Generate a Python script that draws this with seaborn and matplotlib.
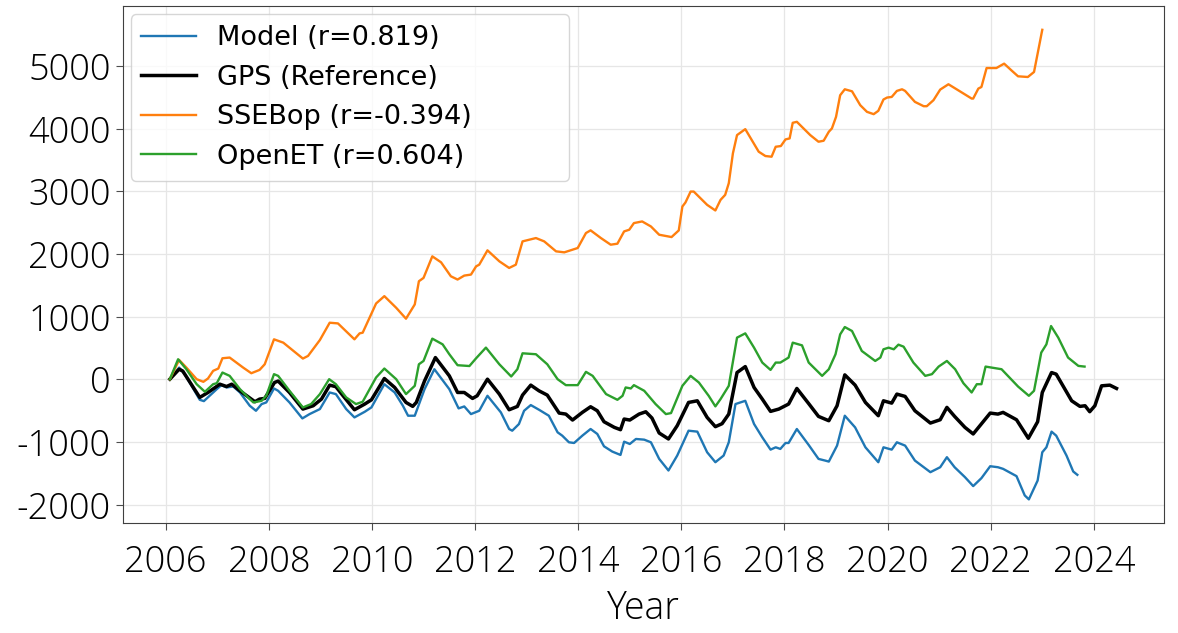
import seaborn as sb
import matplotlib.pyplot as plt
import matplotlib.ticker as mticker
import pandas as pd

# cumulative change (decimal years)
gps_year = [2006.08, 2006.26, 2006.33, 2006.66, 2006.82, 2007.05, 2007.18, 2007.28, 2007.44, 2007.73,
            2007.82, 2007.92, 2008.11, 2008.18, 2008.40, 2008.66, 2008.86, 2009.02, 2009.18, 2009.30,
            2009.44, 2009.66, 2009.86, 2009.99, 2010.24, 2010.44, 2010.66, 2010.79, 2010.86, 2011.02,
            2011.23, 2011.50, 2011.66, 2011.79, 2011.95, 2012.04, 2012.24, 2012.47, 2012.66, 2012.82,
            2012.92, 2013.08, 2013.24, 2013.40, 2013.63, 2013.76, 2013.89, 2014.08, 2014.24, 2014.37,
            2014.50, 2014.70, 2014.82, 2014.89, 2015.00, 2015.18, 2015.31, 2015.43, 2015.57, 2015.75,
            2015.92, 2016.14, 2016.31, 2016.50, 2016.66, 2016.79, 2016.92, 2017.08, 2017.24, 2017.41,
            2017.57, 2017.73, 2017.89, 2018.08, 2018.24, 2018.47, 2018.66, 2018.86, 2019.02, 2019.17,
            2019.37, 2019.57, 2019.82, 2019.92, 2020.08, 2020.18, 2020.34, 2020.53, 2020.83, 2021.02,
            2021.15, 2021.30, 2021.50, 2021.66, 2021.99, 2022.14, 2022.24, 2022.50, 2022.73, 2022.91,
            2023.00, 2023.18, 2023.27, 2023.57, 2023.73, 2023.83, 2023.92, 2024.02, 2024.15, 2024.31,
            2024.44]
gps_val = [0, 159, 130, -291, -212, -80, -117, -80, -186, -360,
           -318, -307, -53, -30, -212, -477, -424, -318, -95, -120,
           -265, -488, -397, -329, 11, -132, -371, -434, -371, -27,
           345, 53, -212, -212, -307, -265, 0, -238, -488, -435,
           -254, -95, -186, -254, -541, -557, -652, -530, -440, -504,
           -679, -769, -806, -636, -652, -557, -520, -620, -859, -954,
           -742, -371, -345, -610, -758, -710, -557, 106, 201, -132,
           -318, -514, -477, -397, -148, -390, -594, -663, -424, 69,
           -95, -371, -583, -345, -382, -238, -275, -504, -700, -647,
           -450, -594, -769, -874, -541, -557, -530, -647, -943, -679,
           -212, 106, 80, -345, -434, -424, -519, -424, -106, -95,
           -148]

model_year = [2006.08, 2006.26, 2006.37, 2006.66, 2006.74, 2006.99, 2007.08, 2007.18, 2007.31, 2007.44,
              2007.63, 2007.75, 2007.86, 2007.95, 2008.10, 2008.18, 2008.40, 2008.65, 2008.79, 2008.99,
              2009.18, 2009.30, 2009.50, 2009.66, 2009.86, 2009.99, 2010.24, 2010.44, 2010.60, 2010.70,
              2010.83, 2011.02, 2011.21, 2011.50, 2011.68, 2011.79, 2011.92, 2012.08, 2012.24, 2012.50,
              2012.66, 2012.72, 2012.85, 2012.95, 2013.08, 2013.24, 2013.43, 2013.60, 2013.69, 2013.82,
              2013.92, 2014.08, 2014.24, 2014.37, 2014.50, 2014.66, 2014.82, 2014.89, 2015.00, 2015.12,
              2015.28, 2015.41, 2015.57, 2015.75, 2015.92, 2016.14, 2016.31, 2016.50, 2016.66, 2016.82,
              2016.92, 2017.05, 2017.24, 2017.41, 2017.57, 2017.73, 2017.83, 2017.92, 2018.02, 2018.08,
              2018.24, 2018.47, 2018.66, 2018.79, 2018.86, 2019.02, 2019.17, 2019.37, 2019.57, 2019.82,
              2019.92, 2020.08, 2020.18, 2020.34, 2020.53, 2020.83, 2021.02, 2021.15, 2021.30, 2021.50,
              2021.66, 2021.82, 2021.99, 2022.14, 2022.24, 2022.50, 2022.66, 2022.74, 2022.91, 2023.00,
              2023.08, 2023.18, 2023.27, 2023.47, 2023.60, 2023.68]
model_val = [0, 185, 80, -329, -350, -159, -95, -132, -117, -212,
             -424, -504, -397, -371, -148, -185, -371, -626, -557, -477,
             -212, -238, -477, -610, -520, -450, -80, -212, -424, -583,
             -583, -159, 159, -159, -466, -435, -557, -504, -265, -530,
             -795, -822, -716, -504, -413, -488, -583, -848, -901, -1007,
             -1018, -901, -795, -874, -1071, -1155, -1209, -997, -1034, -954,
             -965, -1007, -1272, -1457, -1219, -822, -837, -1166, -1325, -1219,
             -1007, -397, -345, -715, -928, -1124, -1087, -1113, -1018, -1018,
             -795, -1050, -1272, -1299, -1315, -1060, -583, -769, -1087, -1325,
             -1087, -1124, -1007, -1060, -1299, -1484, -1405, -1245, -1405, -1563,
             -1706, -1579, -1389, -1405, -1431, -1547, -1855, -1918, -1617, -1166,
             -1087, -837, -901, -1219, -1473, -1526]

ssebop_year = [2006.08, 2006.26, 2006.40, 2006.60, 2006.73, 2006.82, 2006.92, 2007.02, 2007.10, 2007.24,
               2007.50, 2007.66, 2007.82, 2007.92, 2008.10, 2008.28, 2008.66, 2008.76, 2008.99, 2009.18,
               2009.34, 2009.66, 2009.76, 2009.82, 2010.08, 2010.24, 2010.47, 2010.66, 2010.83, 2010.91,
               2011.00, 2011.17, 2011.34, 2011.53, 2011.66, 2011.79, 2011.92, 2012.02, 2012.08, 2012.24,
               2012.47, 2012.66, 2012.79, 2012.92, 2013.18, 2013.34, 2013.57, 2013.73, 2013.99, 2014.15,
               2014.24, 2014.44, 2014.63, 2014.76, 2014.89, 2014.99, 2015.08, 2015.24, 2015.41, 2015.57,
               2015.81, 2015.95, 2016.02, 2016.08, 2016.18, 2016.24, 2016.50, 2016.66, 2016.76, 2016.85,
               2016.92, 2017.00, 2017.08, 2017.24, 2017.50, 2017.63, 2017.75, 2017.83, 2017.93, 2018.02,
               2018.10, 2018.16, 2018.24, 2018.50, 2018.66, 2018.76, 2018.86, 2018.92, 2019.00, 2019.08,
               2019.17, 2019.31, 2019.47, 2019.60, 2019.73, 2019.82, 2019.92, 2019.99, 2020.08, 2020.18,
               2020.28, 2020.34, 2020.53, 2020.70, 2020.76, 2020.89, 2021.02, 2021.18, 2021.37, 2021.63,
               2021.66, 2021.76, 2021.82, 2021.92, 2022.11, 2022.26, 2022.40, 2022.53, 2022.72, 2022.84,
               2023.00]
ssebop_val = [0, 307, 186, 0, -42, 11, 133, 170, 334, 345,
              186, 95, 148, 238, 636, 583, 329, 371, 625, 901,
              890, 636, 731, 742, 1208, 1325, 1139, 965, 1193, 1563,
              1616, 1960, 1865, 1642, 1590, 1653, 1669, 1801, 1827, 2056,
              1881, 1775, 1827, 2199, 2252, 2199, 2040, 2024, 2093, 2332,
              2375, 2252, 2146, 2162, 2358, 2385, 2491, 2517, 2437, 2305,
              2268, 2374, 2755, 2820, 2994, 2994, 2782, 2692, 2861, 2941,
              3127, 3604, 3895, 3990, 3630, 3561, 3550, 3709, 3720, 3826,
              3842, 4091, 4107, 3895, 3789, 3805, 3948, 4001, 4186, 4531,
              4626, 4594, 4372, 4266, 4229, 4282, 4463, 4494, 4504, 4600,
              4626, 4600, 4425, 4356, 4356, 4452, 4621, 4706, 4610, 4478,
              4478, 4637, 4663, 4965, 4965, 5035, 4929, 4833, 4822, 4902,
              5575]

openet_year = [2006.08, 2006.24, 2006.40, 2006.60, 2006.76, 2006.92, 2006.99, 2007.10, 2007.24, 2007.44,
               2007.63, 2007.70, 2007.86, 2007.95, 2008.10, 2008.18, 2008.40, 2008.66, 2008.82, 2008.99,
               2009.17, 2009.30, 2009.50, 2009.69, 2009.82, 2010.08, 2010.24, 2010.47, 2010.66, 2010.83,
               2010.91, 2011.00, 2011.17, 2011.37, 2011.50, 2011.66, 2011.89, 2012.02, 2012.21, 2012.47,
               2012.70, 2012.82, 2012.92, 2013.18, 2013.40, 2013.60, 2013.76, 2013.99, 2014.15, 2014.28,
               2014.54, 2014.76, 2014.86, 2014.92, 2015.02, 2015.08, 2015.28, 2015.50, 2015.70, 2015.80,
               2016.02, 2016.18, 2016.34, 2016.53, 2016.66, 2016.76, 2016.92, 2017.08, 2017.24, 2017.41,
               2017.57, 2017.73, 2017.83, 2017.92, 2018.08, 2018.16, 2018.34, 2018.47, 2018.73, 2018.86,
               2018.99, 2019.08, 2019.17, 2019.31, 2019.50, 2019.76, 2019.86, 2019.92, 2020.02, 2020.12,
               2020.21, 2020.31, 2020.50, 2020.73, 2020.86, 2020.99, 2021.15, 2021.31, 2021.47, 2021.63,
               2021.73, 2021.82, 2021.90, 2022.21, 2022.53, 2022.74, 2022.84, 2022.98, 2023.08, 2023.17,
               2023.31, 2023.50, 2023.70, 2023.82]
openet_val = [0, 318, 159, -80, -201, -80, -64, 106, 53, -159,
              -318, -371, -345, -265, 80, 53, -185, -451, -397, -238,
              0, -80, -291, -397, -360, 27, 170, 0, -238, -106,
              238, 291, 647, 556, 398, 223, 210, 334, 504, 238,
              43, 159, 413, 398, 238, 0, -95, -95, 117, 53,
              -238, -329, -265, -132, -148, -95, -185, -397, -557, -541,
              -106, 53, -53, -265, -434, -318, -106, 663, 731, 503,
              265, 148, 265, 265, 345, 583, 540, 265, 53, 159,
              398, 715, 832, 769, 450, 291, 345, 477, 503, 477,
              551, 519, 265, 53, 80, 201, 291, 159, -64, -212,
              -80, -80, 201, 159, -117, -265, -185, 424, 556, 848,
              663, 345, 212, 201]

labels = ['Model (r=0.819)', 'GPS (Reference)', 'SSEBop (r=-0.394)', 'OpenET (r=0.604)']
colors = ['#1f77b4', 'black', '#ff7f0e', '#2ca02c']
widths = [1.7, 2.5, 1.7, 1.7]

series = [(model_year, model_val), (gps_year, gps_val),
          (ssebop_year, ssebop_val), (openet_year, openet_val)]

plt.rcParams['axes.unicode_minus'] = False
tick_font = ['Open Sans', 'DejaVu Sans']

fig, ax = plt.subplots(figsize=(11.78, 6.33), dpi=100)
fig.subplots_adjust(left=0.104, right=0.988, top=0.99, bottom=0.174)

for (yr, val), lab, c, lw in zip(series, labels, colors, widths):
    df = pd.DataFrame({'year': yr, 'value': val})
    sb.lineplot(data=df, x='year', y='value', color=c, linewidth=lw,
                label=lab, ax=ax, sort=False)

ax.xaxis.set_major_locator(mticker.MultipleLocator(2))
ax.grid(True, color='0.9', linewidth=0.9)
ax.set_axisbelow(True)
ax.set_ylabel('')
ax.set_xlabel('Year', fontsize=27, family=tick_font, fontweight='light', labelpad=6)
for t in ax.get_xticklabels() + ax.get_yticklabels():
    t.set_fontfamily(tick_font)
    t.set_fontweight('light')
    t.set_fontsize(26)
ax.tick_params(colors='0.3', labelcolor='black', length=5)
ax.tick_params(axis='x', pad=10)
for s in ax.spines.values():
    s.set_color('0.25')

ax.legend(loc='upper left', fontsize=19.5, mode='expand',
          bbox_to_anchor=(0.0, 0.0, 0.437, 1.0), borderaxespad=0.3)

plt.savefig('out.png', dpi=100)
